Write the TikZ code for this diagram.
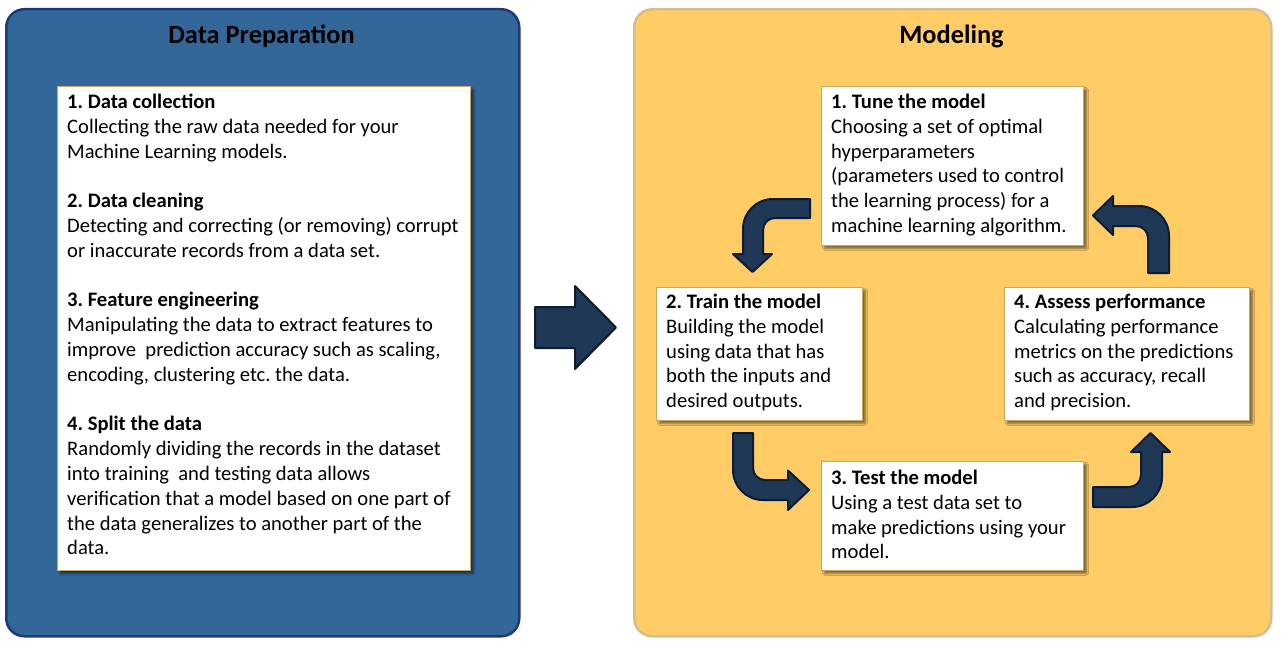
\documentclass[tikz,border=0pt]{standalone}
\usepackage{fontspec}
\setmainfont{Carlito}
\usetikzlibrary{shadows.blur}
\definecolor{prepblue}{HTML}{336699}
\definecolor{prepborder}{HTML}{1F3A7A}
\definecolor{modelfill}{HTML}{FFCC66}
\definecolor{modelborder}{HTML}{D4BF8C}
\definecolor{boxborder}{HTML}{C9A862}
\definecolor{arrowfill}{HTML}{1F3856}
\definecolor{arrowline}{HTML}{0C1A33}
\newcommand{\boxlines}[1]{\begin{tabular}[t]{@{}l@{}}#1\end{tabular}}
\frenchspacing
\begin{document}
\begin{tikzpicture}[x=1pt,y=-1pt,
  panelprep/.style={draw=prepborder, line width=2.5pt, fill=prepblue, rounded corners=18pt, anchor=north west, inner sep=0pt},
  panelmodel/.style={draw=modelborder, line width=2.5pt, fill=modelfill, rounded corners=18pt, anchor=north west, inner sep=0pt},
  paneltitle/.style={anchor=base, inner sep=0pt, font=\fontsize{26.4}{31}\selectfont\bfseries},
  stepbox/.style={draw=boxborder, line width=0.9pt, fill=white, anchor=north west, inner sep=0pt,
    blur shadow={shadow xshift=3pt, shadow yshift=-3pt, shadow blur steps=6, shadow opacity=50}},
  steptext/.style={anchor=base west, inner sep=0pt, font=\fontsize{20.6}{24.8}\selectfont},
  blockarrow/.style={fill=arrowfill, draw=arrowline, line width=2pt, line join=round}
]
\useasboundingbox (0,0) rectangle (1282,650);

% panels
\node[panelprep, minimum width=513pt, minimum height=627pt] (prep) at (5,8) {};
\node[panelmodel, minimum width=637pt, minimum height=627pt] (model) at (633,8) {};
\node[paneltitle] (prepT) at (261.5,43.5) {Data Preparation};
\node[paneltitle] (modelT) at (951.5,43.5) {Modeling};

% left box
\node[stepbox, minimum width=413pt, minimum height=484pt] (prepbox) at (57,86) {};
\node[steptext] (preptext) at (67,108.5) {\boxlines{%
\textbf{1. Data collection}\\
Collecting the raw data needed for your\\
Machine Learning models.\\
\\
\textbf{2. Data cleaning}\\
Detecting and correcting (or removing) corrupt\\
or inaccurate records from a data set.\\
\\
\textbf{3. Feature engineering}\\
Manipulating the data to extract features to\\
improve\ \ prediction accuracy such as scaling,\\
encoding, clustering etc. the data.\\
\\
\textbf{4. Split the data}\\
Randomly dividing the records in the dataset\\
into training\ \ and testing data allows\\
verification that a model based on one part of\\
the data generalizes to another part of the\\
data.}};

% modeling boxes
\node[stepbox, minimum width=262pt, minimum height=159pt] (tune) at (821,86) {};
\node[steptext] (tuneT) at (831,108.5) {\boxlines{%
\textbf{1. Tune the model}\\
Choosing a set of optimal\\
hyperparameters\\
(parameters used to control\\
the learning process) for a\\
machine learning algorithm.}};

\node[stepbox, minimum width=206pt, minimum height=133pt] (train) at (656,287) {};
\node[steptext] (trainT) at (666,308.5) {\boxlines{%
\textbf{2. Train the model}\\
Building the model\\
using data that has\\
both the inputs and\\
desired outputs.}};

\node[stepbox, minimum width=245pt, minimum height=133pt] (assess) at (1004,287) {};
\node[steptext] (assessT) at (1014,308.5) {\boxlines{%
\textbf{4. Assess performance}\\
Calculating performance\\
metrics on the predictions\\
such as accuracy, recall\\
and precision.}};

\node[stepbox, minimum width=262pt, minimum height=109pt] (test) at (821,461) {};
\node[steptext] (testT) at (831,484.5) {\boxlines{%
\textbf{3. Test the model}\\
Using a test data set to\\
make predictions using your\\
model.}};

% big arrow
\path[blockarrow] (535,307) -- (575,307) -- (575,286) -- (616,327.5) -- (575,369) -- (575,348) -- (535,348) -- cycle;

% bent arrow: tune -> train
\path[blockarrow] (810,199) -- (773,199) .. controls (756.4,199) and (743,212.4) .. (743,229)
  -- (743,254) -- (733,254) -- (752.5,272) -- (772,254) -- (763,254) -- (763,230)
  .. controls (763,223.4) and (768.4,218) .. (775,218) -- (810,218) -- cycle;

% bent arrow: train -> test
\path[blockarrow] (733,433) -- (733,470) .. controls (733,486.6) and (746.4,500) .. (763,500)
  -- (788,500) -- (788,510) -- (809,490) -- (788,470.5) -- (788,480) -- (765,480)
  .. controls (758.4,480) and (753,474.6) .. (753,468) -- (753,433) -- cycle;

% bent arrow: test -> assess
\path[blockarrow] (1093,507) -- (1132,507) .. controls (1148.6,507) and (1162,493.6) .. (1162,477)
  -- (1162,452) -- (1170,452) -- (1150.5,433) -- (1131,452) -- (1141,452) -- (1141,475)
  .. controls (1141,481.6) and (1135.6,487) .. (1129,487) -- (1093,487) -- cycle;

% bent arrow: assess -> tune
\path[blockarrow] (1148,273) -- (1148,238) .. controls (1148,231.4) and (1142.6,226) .. (1136,226)
  -- (1113,226) -- (1113,235) -- (1093,215.5) -- (1113,196) -- (1113,206) -- (1139,206)
  .. controls (1155.6,206) and (1169,219.4) .. (1169,236) -- (1169,273) -- cycle;
\end{tikzpicture}
\end{document}
